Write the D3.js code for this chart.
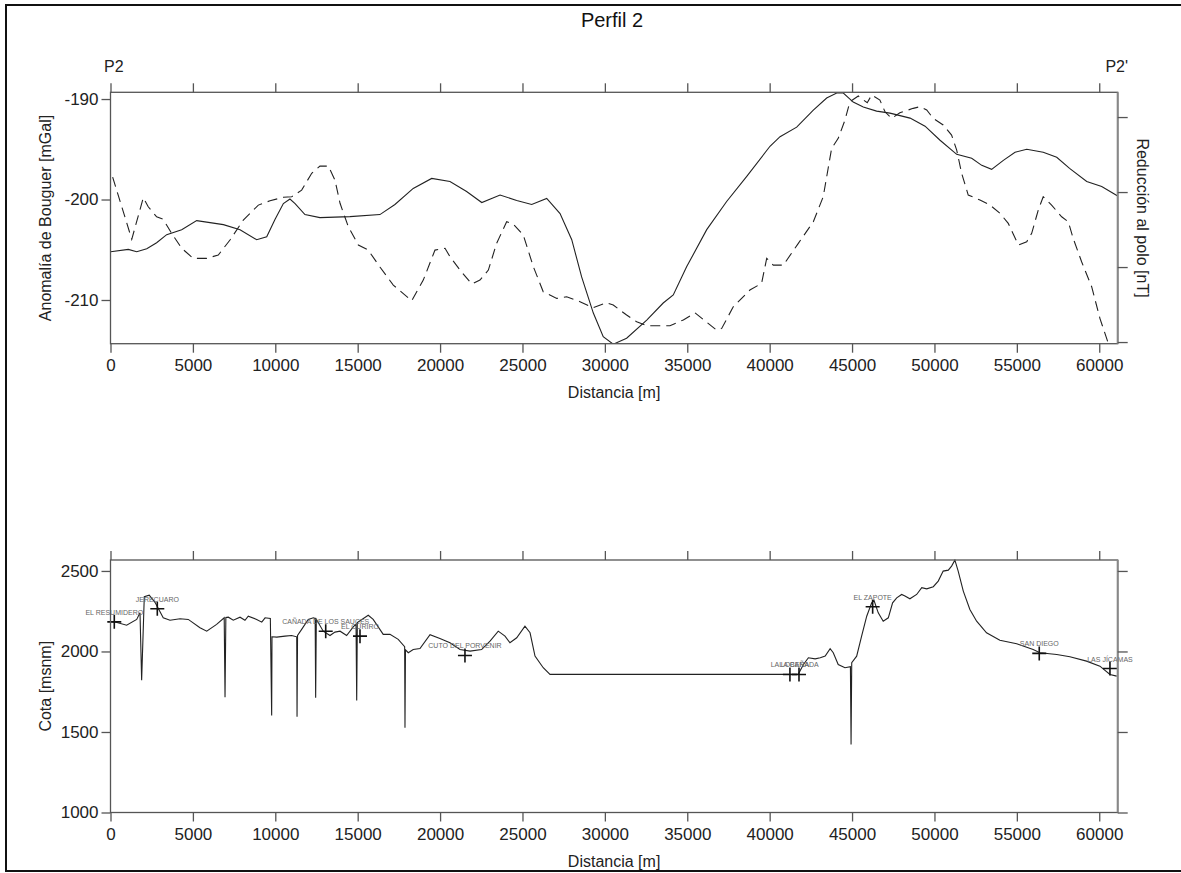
<!DOCTYPE html>
<html>
<head>
<meta charset="utf-8">
<script src="https://cdn.jsdelivr.net/npm/d3@7"></script>
<style>
  body { margin: 0; background: #fff; }
  svg { font-family: "Liberation Sans", Arial, sans-serif; }
</style>
</head>
<body>
<div id="chart"></div>
<script>
// Perfil 2 - anomalia de Bouguer, reduccion al polo y cota
const distTicks = [0, 5000, 10000, 15000, 20000, 25000, 30000, 35000, 40000, 45000, 50000, 55000, 60000];
const bouguerTicks = [-190, -200, -210];
const magTicks = [0, 50, 100, 150];
const cotaTicks = [1000, 1500, 2000, 2500];

const bouguerDist = [12, 1080, 1590, 2200, 2800, 3410, 4320, 5230, 6040, 6850, 7860, 8870, 9480, 9980, 10490, 10890, 11200, 11800, 12710, 14530, 16350, 17260, 18370, 19490, 20600, 21610, 22530, 23640, 24650, 25560, 26470, 27280, 27990, 28590, 29300, 29900, 30510, 31320, 32540, 33540, 34150, 34960, 36180, 37390, 38610, 40020, 40630, 41640, 42650, 43460, 44070, 44470, 45070, 45680, 46490, 47300, 48520, 49430, 50340, 51350, 52260, 52870, 53470, 54180, 54890, 55600, 56600, 57420, 58200, 59240, 60150, 61120];
const bouguerVal = [-205.2, -204.96, -205.2, -204.9, -204.3, -203.5, -203.0, -202.1, -202.3, -202.5, -203.0, -204.0, -203.7, -202.0, -200.4, -199.95, -200.4, -201.5, -201.8, -201.7, -201.5, -200.5, -198.9, -197.9, -198.2, -199.2, -200.3, -199.55, -200.1, -200.5, -199.9, -201.4, -204.0, -207.7, -211.3, -213.65, -214.4, -213.8, -212.0, -210.3, -209.5, -206.7, -203.0, -200.2, -197.7, -194.7, -193.75, -192.8, -191.1, -189.9, -189.4, -189.4, -190.3, -190.8, -191.2, -191.4, -191.9, -192.7, -194.1, -195.5, -195.9, -196.6, -197.0, -196.1, -195.3, -195.0, -195.3, -195.8, -196.9, -198.2, -198.7, -199.65];

const magDist = [130, 1290, 1990, 2290, 2800, 3200, 3710, 4320, 5020, 5840, 6540, 7250, 8060, 8970, 9680, 10490, 11000, 11600, 12210, 12710, 13220, 13620, 13930, 14430, 15040, 15640, 16350, 17160, 18280, 18980, 19690, 20300, 20600, 21210, 21920, 22420, 22930, 23430, 24040, 24440, 25050, 25660, 26260, 27080, 27680, 28490, 29300, 30110, 30510, 31320, 31930, 32540, 33950, 34760, 35470, 35970, 36780, 37090, 37790, 38800, 39510, 39820, 40220, 40830, 41740, 42650, 43250, 43760, 44160, 44570, 44870, 45380, 45920, 46190, 46690, 47000, 47400, 47900, 48710, 49120, 49530, 49930, 50530, 51040, 51350, 51650, 52050, 52760, 53370, 53980, 54480, 55090, 55600, 55900, 56300, 56600, 57110, 57720, 58120, 58420, 58930, 59540, 60040, 60550, 61100];
const magVal = [110, 68.5, 96.2, 90.2, 83.5, 81.8, 72.5, 62.5, 55.8, 55.8, 58, 68, 81.3, 91.3, 94.2, 96.5, 96.9, 101.3, 112.5, 117.3, 117.3, 108, 92.5, 76.9, 64.7, 61.3, 50, 38, 27.5, 41.3, 61.3, 62.5, 56.9, 48, 38.7, 41.3, 48, 65.8, 80.2, 78.7, 71.3, 50.2, 33.5, 29.1, 30.2, 26.9, 22.9, 26.2, 24.7, 18, 13.5, 10.9, 10.9, 14.7, 19.5, 15.1, 8, 9.1, 23.5, 34.7, 39.1, 55.8, 51.3, 51.3, 65.8, 80.2, 96.9, 129.1, 135.8, 148, 160.2, 164, 159.5, 164.7, 161.3, 153.5, 149.1, 152.9, 155.8, 156.9, 154.7, 149.1, 144.7, 138, 128, 112.5, 98, 94.7, 91.3, 85.8, 79.1, 64.7, 66.9, 72.5, 88, 96.9, 91.3, 83.5, 80.2, 69.1, 53.5, 36.9, 15.8, -0.9, -15];

const cotaDist = [0, 230, 980, 1590, 1790, 1890, 2050, 2350, 2700, 3200, 3610, 4220, 4720, 5430, 5840, 6440, 6900, 6950, 7000, 7150, 7450, 7860, 8160, 8360, 8870, 9180, 9380, 9700, 9780, 9800, 10090, 10590, 10990, 11300, 11320, 11350, 11600, 12000, 12310, 12420, 12450, 12490, 12910, 13320, 13620, 13930, 14330, 14730, 14900, 14940, 14980, 15640, 15940, 16550, 16960, 17460, 17850, 17870, 17900, 18070, 18370, 18780, 19390, 19990, 20600, 21210, 21820, 22520, 23030, 23530, 23940, 24240, 24650, 25150, 25460, 25760, 26260, 26670, 41030, 41730, 42050, 42350, 42760, 43070, 43370, 43670, 43860, 44160, 44570, 44900, 44940, 44980, 45280, 45580, 45890, 46190, 46330, 46590, 46890, 47200, 47460, 47710, 48010, 48210, 48510, 48920, 49230, 49530, 49930, 50230, 50530, 50840, 51040, 51240, 51440, 51750, 52150, 52560, 53160, 53970, 54990, 55990, 56400, 57420, 58220, 59230, 60040, 60650, 61060];
const cotaVal = [2185, 2184, 2163, 2199, 2240, 1822, 2340, 2350, 2305, 2209, 2194, 2203, 2199, 2147, 2126, 2168, 2209, 1716, 2211, 2213, 2194, 2213, 2194, 2219, 2199, 2182, 2209, 2205, 1602, 2091, 2089, 2095, 2099, 2091, 1594, 2100, 2137, 2199, 2209, 2205, 1712, 2200, 2126, 2099, 2120, 2126, 2099, 2153, 2170, 1696, 2180, 2225, 2199, 2106, 2106, 2075, 2030, 1526, 2010, 1992, 2012, 2018, 2104, 2080, 2054, 2012, 2002, 2012, 2064, 2126, 2095, 2054, 2085, 2157, 2116, 1971, 1899, 1858, 1858, 1858, 1919, 1961, 1954, 1961, 1971, 2017, 1992, 1919, 1899, 1905, 1422, 1930, 1971, 2095, 2219, 2302, 2318, 2240, 2188, 2209, 2302, 2333, 2354, 2344, 2327, 2354, 2396, 2389, 2402, 2437, 2499, 2505, 2530, 2567, 2499, 2375, 2261, 2188, 2116, 2070, 2048, 2012, 1992, 1981, 1967, 1940, 1909, 1857, 1847];

const townNames = ['EL RESUMIDERO', 'JERECUARO', 'CAÑADA DE LOS SAUCES', 'EL CURIRO', 'CUTO DEL PORVENIR', 'LA LOBERA', 'LA CAÑADA', 'EL ZAPOTE', 'SAN DIEGO', 'LAS JÍCAMAS'];
const townDist = [230, 2840, 13060, 15140, 21510, 41230, 41780, 46250, 56360, 60650];
const townCota = [2184, 2265, 2126, 2095, 1975, 1857, 1857, 2278, 1988, 1894];

const W = 1181, H = 873;
const svg = d3.select('#chart').append('svg').attr('width', W).attr('height', H);

// outer frame (right side runs off the picture)
svg.append('rect').attr('x', 6).attr('y', 5).attr('width', W + 10).attr('height', 866)
  .attr('fill', 'none').attr('stroke', '#111').attr('stroke-width', 2);

svg.append('text').attr('x', 612).attr('y', 27).attr('text-anchor', 'middle')
  .attr('font-size', 20).attr('fill', '#111').text('Perfil 2');

const left = 110.5, right = 1117.7;
const x = d3.scaleLinear().domain([0, 61120]).range([left, right]);
const plain = d => String(d);

function frame(g, top, bottom, yScale, yTicks, rScale, rTicks, title) {
  g.append('rect').attr('x', left).attr('y', top).attr('width', right - left).attr('height', bottom - top)
    .attr('fill', 'none').attr('stroke', '#555').attr('stroke-width', 1.3);
  g.append('line').attr('x1', right).attr('x2', right).attr('y1', top).attr('y2', bottom)
    .attr('stroke', '#888').attr('stroke-width', 2);
  const xb = g.append('g').attr('transform', `translate(0,${bottom})`)
    .call(d3.axisBottom(x).tickValues(distTicks).tickSize(9).tickPadding(6).tickFormat(plain));
  const xt = g.append('g').attr('transform', `translate(0,${top})`)
    .call(d3.axisTop(x).tickValues(distTicks).tickSize(9).tickFormat(''));
  const yl = g.append('g').attr('transform', `translate(${left},0)`)
    .call(d3.axisLeft(yScale).tickValues(yTicks).tickSize(9).tickPadding(3).tickFormat(plain));
  const yr = g.append('g').attr('transform', `translate(${right},0)`)
    .call(d3.axisRight(rScale).tickValues(rTicks).tickSize(10).tickFormat(''));
  [xb, xt, yl, yr].forEach(a => {
    a.select('.domain').remove();
    a.selectAll('.tick line').attr('stroke', '#555').attr('stroke-width', 1.3);
    a.selectAll('text').attr('font-size', 17).attr('fill', '#222')
      .attr('font-family', '"Liberation Sans", Arial, sans-serif');
  });
  g.append('text').attr('x', (left + right) / 2).attr('y', bottom + 54).attr('text-anchor', 'middle')
    .attr('font-size', 16).attr('fill', '#222').text('Distancia [m]');
  g.append('text').attr('transform', `translate(51,${(top + bottom) / 2}) rotate(-90)`)
    .attr('text-anchor', 'middle').attr('font-size', 16).attr('fill', '#222').text(title);
}

// ---- top chart: Bouguer (solid, left axis) and reduccion al polo (dashed, right axis)
const topY0 = 92.3, topY1 = 343.7;
const yB = d3.scaleLinear().domain([-214.35, -189.33]).range([topY1, topY0]);
const yM = d3.scaleLinear().domain([-1.1, 166.5]).range([topY1, topY0]);
const gTop = svg.append('g');
svg.append('clipPath').attr('id', 'clipTop').append('rect')
  .attr('x', left).attr('y', topY0).attr('width', right - left).attr('height', topY1 - topY0);

gTop.append('path')
  .datum(bouguerDist.map((d, i) => [d, bouguerVal[i]]))
  .attr('clip-path', 'url(#clipTop)')
  .attr('fill', 'none').attr('stroke', '#222').attr('stroke-width', 1.1)
  .attr('d', d3.line().x(d => x(d[0])).y(d => yB(d[1])));
gTop.append('path')
  .datum(magDist.map((d, i) => [d, magVal[i]]))
  .attr('clip-path', 'url(#clipTop)')
  .attr('fill', 'none').attr('stroke', '#222').attr('stroke-width', 1.1)
  .attr('stroke-dasharray', '10,6')
  .attr('d', d3.line().x(d => x(d[0])).y(d => yM(d[1])));

frame(gTop, topY0, topY1, yB, bouguerTicks, yM, magTicks, 'Anomalía de Bouguer [mGal]');
gTop.append('text').attr('transform', `translate(1137,${(topY0 + topY1) / 2}) rotate(90)`)
  .attr('text-anchor', 'middle').attr('font-size', 16).attr('fill', '#222').text('Reducción al polo [nT]');
gTop.append('text').attr('x', 104).attr('y', 72).attr('font-size', 16).attr('fill', '#222').text('P2');
gTop.append('text').attr('x', 1128).attr('y', 72).attr('text-anchor', 'end').attr('font-size', 16).attr('fill', '#222').text("P2'");

// ---- bottom chart: cota
const botY0 = 560, botY1 = 812.5;
const yC = d3.scaleLinear().domain([1000, 2568]).range([botY1, botY0]);
const gBot = svg.append('g');
gBot.append('path')
  .datum(cotaDist.map((d, i) => [d, cotaVal[i]]))
  .attr('fill', 'none').attr('stroke', '#222').attr('stroke-width', 1.1)
  .attr('d', d3.line().x(d => x(d[0])).y(d => yC(d[1])));

const towns = townNames.map((n, i) => ({ name: n, d: townDist[i], c: townCota[i] }));
const tg = gBot.selectAll('g.town').data(towns).enter().append('g')
  .attr('class', 'town')
  .attr('transform', t => `translate(${x(t.d)},${yC(t.c)})`);
tg.append('path').attr('d', 'M-7,0H7M0,-7V7').attr('stroke', '#111').attr('stroke-width', 1.6);
tg.append('text').attr('y', -7).attr('text-anchor', 'middle').attr('font-size', 7)
  .attr('fill', '#666').text(t => t.name);

frame(gBot, botY0, botY1, yC, cotaTicks, yC, cotaTicks, 'Cota [msnm]');
</script>
</body>
</html>
